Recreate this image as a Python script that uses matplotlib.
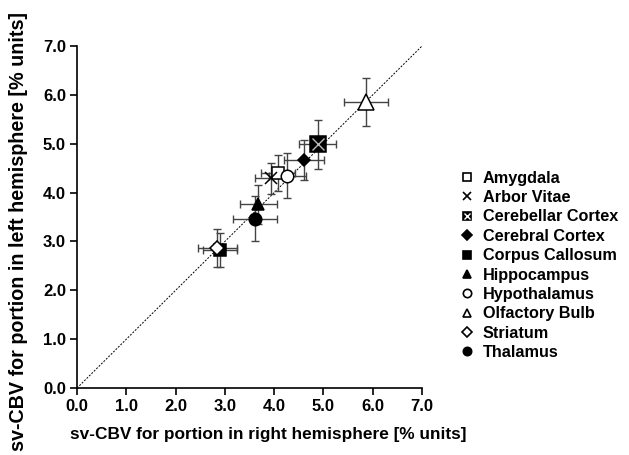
import numpy as np
import matplotlib.pyplot as plt

plt.rcParams['font.family'] = ['Liberation Sans', 'DejaVu Sans']
plt.rcParams['font.weight'] = 'bold'

# data: mean (right, left) and SD (right, left)
regions = ["Amygdala", "Arbor Vitae", "Cerebellar Cortex", "Cerebral Cortex",
           "Corpus Callosum", "Hippocampus", "Hypothalamus", "Olfactory Bulb",
           "Striatum", "Thalamus"]
right_mean = [4.08, 3.94, 4.88, 4.61, 2.90, 3.68, 4.27, 5.86, 2.85, 3.61]
left_mean = [4.40, 4.29, 4.99, 4.66, 2.82, 3.76, 4.34, 5.85, 2.87, 3.47]
right_sd = [0.35, 0.33, 0.38, 0.41, 0.35, 0.38, 0.38, 0.45, 0.40, 0.45]
left_sd = [0.37, 0.32, 0.50, 0.41, 0.35, 0.40, 0.46, 0.49, 0.39, 0.46]

markers = ['s', 'x', 's', 'D', 's', '^', 'o', '^', 'D', 'o']
faces = ['white', 'black', 'black', 'black', 'black', 'black', 'white', 'white', 'white', 'black']
sizes = [8, 8, 11, 6, 8, 9, 9, 11, 7, 9]

fig = plt.figure(figsize=(6.29, 4.55), dpi=100)
ax = fig.add_axes([0.1224, 0.147, 0.5486, 0.752])

ax.plot([0, 7], [0, 7], color='black', linestyle=(0, (2, 1.5)), linewidth=0.7, zorder=1)

for i, name in enumerate(regions):
    ax.errorbar(right_mean[i], left_mean[i], xerr=right_sd[i], yerr=left_sd[i],
                fmt='none', ecolor='#444444', elinewidth=1.0, capsize=3, capthick=1.0, zorder=2)
    ax.plot(right_mean[i], left_mean[i], marker=markers[i], markersize=sizes[i],
            markerfacecolor=faces[i], markeredgecolor='black', markeredgewidth=1.1,
            linestyle='none', zorder=3)
    if name == "Cerebellar Cortex":
        ax.plot(right_mean[i], left_mean[i], marker='x', markersize=sizes[i] * 0.75,
                markeredgecolor='#bbbbbb', markeredgewidth=1.0, linestyle='none', zorder=4)

ax.set_xlim(0, 7)
ax.set_ylim(0, 7)
ticks = np.arange(0, 8, 1.0)
ax.set_xticks(ticks)
ax.set_yticks(ticks)
ax.set_xticklabels([f"{t:.1f}" for t in ticks])
ax.set_yticklabels([f"{t:.1f}" for t in ticks])
ax.tick_params(direction='out', length=5, width=1.2, labelsize=12, pad=3)
for s in ['top', 'right']:
    ax.spines[s].set_visible(False)
for s in ['left', 'bottom']:
    ax.spines[s].set_linewidth(1.2)

ax.set_xlabel("sv-CBV for portion in right hemisphere [% units]", fontsize=12.4, fontweight='bold')
ax.set_ylabel("sv-CBV for portion in left hemisphere [% units]", fontsize=14.2, fontweight='bold')
ax.xaxis.set_label_coords(0.554, -0.115)
ax.yaxis.set_label_coords(-0.142, 0.459)

# legend
handles = []
for i, name in enumerate(regions):
    h, = ax.plot([], [], marker=markers[i], markersize=6 if markers[i] != 'D' else 5,
                 markerfacecolor=faces[i], markeredgecolor='black', markeredgewidth=1.2,
                 linestyle='none')
    if name == "Cerebellar Cortex":
        x, = ax.plot([], [], marker='x', markersize=4.5, markeredgecolor='white',
                     markeredgewidth=1.0, linestyle='none')
        h = (h, x)
    handles.append(h)
leg = fig.legend(handles, regions, loc='upper left', bbox_to_anchor=(0.703, 0.657),
                 frameon=False, handletextpad=0.4, labelspacing=0.27,
                 handlelength=1.2, prop={'weight': 'bold', 'size': 11.7})

plt.savefig("out.png", dpi=100)
